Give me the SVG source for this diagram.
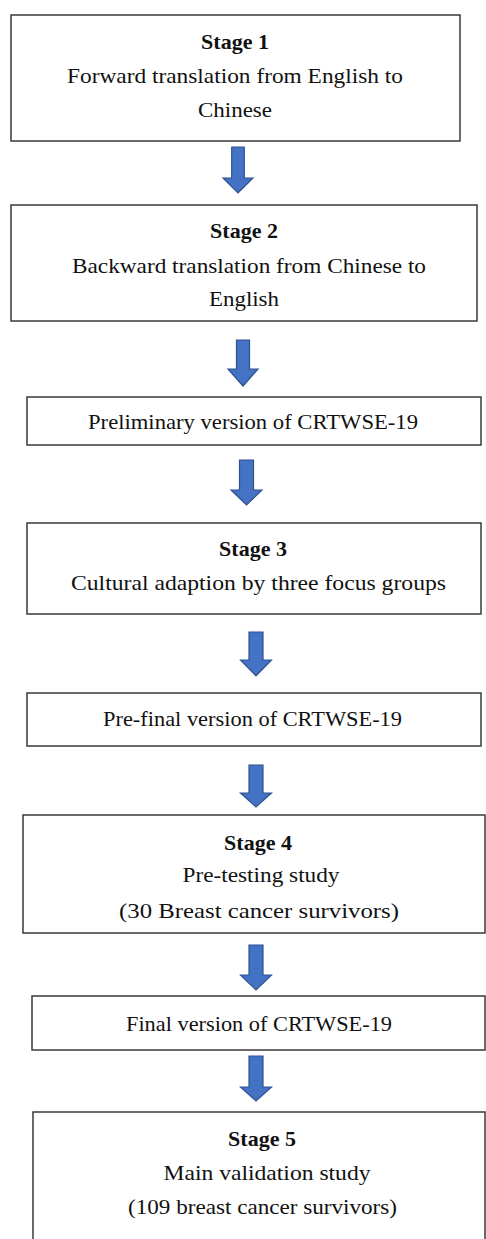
<svg xmlns="http://www.w3.org/2000/svg" width="486" height="1239" viewBox="0 0 486 1239">
<style>
.box{fill:#fff;stroke:#3a3a3a;stroke-width:1.5}
.t{font-family:"Liberation Serif","DejaVu Serif",serif;font-size:22px;fill:#111;text-anchor:middle}
.b{font-weight:bold}
.arr{fill:#4472C4;stroke:#2F528F;stroke-width:1.2;stroke-linejoin:miter}
</style>
<rect width="486" height="1239" fill="#fff"/>
<g id="connectors">
<path class="arr" d="M231.7,147 H244.3 V178 H253 L238,193 L223,178 H231.7 Z"/>
<path class="arr" d="M236.5,340 H249.5 V369 H258 L243,386 L228,369 H236.5 Z"/>
<path class="arr" d="M239.5,460 H253.5 V490 H262 L246.5,505 L231,490 H239.5 Z"/>
<path class="arr" d="M249,632 H263 V660 H271.5 L256,676 L240.5,660 H249 Z"/>
<path class="arr" d="M249,765 H263 V793 H271.5 L256,807 L240.5,793 H249 Z"/>
<path class="arr" d="M249,945 H263 V975 H271.5 L256,990 L240.5,975 H249 Z"/>
<path class="arr" d="M249,1056 H263 V1087 H271.5 L256,1101 L240.5,1087 H249 Z"/>
</g>
<g id="stage1">
<rect class="box" x="11" y="15" width="449" height="126"/>
<text class="t b" x="235" y="49">Stage 1</text>
<text class="t" x="235" y="83" textLength="336" lengthAdjust="spacingAndGlyphs">Forward translation from English to</text>
<text class="t" x="235" y="117" textLength="74" lengthAdjust="spacingAndGlyphs">Chinese</text>
</g>
<g id="stage2">
<rect class="box" x="11" y="205" width="466" height="116"/>
<text class="t b" x="244" y="238">Stage 2</text>
<text class="t" x="249" y="273" textLength="354" lengthAdjust="spacingAndGlyphs">Backward translation from Chinese to</text>
<text class="t" x="244" y="306" textLength="70" lengthAdjust="spacingAndGlyphs">English</text>
</g>
<g id="preliminary">
<rect class="box" x="27" y="397" width="454" height="48"/>
<text class="t" x="253" y="429" textLength="330" lengthAdjust="spacingAndGlyphs">Preliminary version of CRTWSE-19</text>
</g>
<g id="stage3">
<rect class="box" x="27" y="523" width="454" height="91"/>
<text class="t b" x="253" y="556">Stage 3</text>
<text class="t" x="258.5" y="590" textLength="375" lengthAdjust="spacingAndGlyphs">Cultural adaption by three focus groups</text>
</g>
<g id="prefinal">
<rect class="box" x="27" y="693" width="454" height="53"/>
<text class="t" x="252.5" y="726" textLength="299" lengthAdjust="spacingAndGlyphs">Pre-final version of CRTWSE-19</text>
</g>
<g id="stage4">
<rect class="box" x="23" y="815" width="462" height="118"/>
<text class="t b" x="258" y="850">Stage 4</text>
<text class="t" x="261" y="882" textLength="157" lengthAdjust="spacingAndGlyphs">Pre-testing study</text>
<text class="t" x="259" y="918" textLength="280" lengthAdjust="spacingAndGlyphs">(30 Breast cancer survivors)</text>
</g>
<g id="final">
<rect class="box" x="32" y="996" width="453" height="54"/>
<text class="t" x="259" y="1031" textLength="266" lengthAdjust="spacingAndGlyphs">Final version of CRTWSE-19</text>
</g>
<g id="stage5">
<rect class="box" x="33" y="1112" width="452" height="135"/>
<text class="t b" x="262" y="1146">Stage 5</text>
<text class="t" x="267" y="1180" textLength="207" lengthAdjust="spacingAndGlyphs">Main validation study</text>
<text class="t" x="262.5" y="1214" textLength="269" lengthAdjust="spacingAndGlyphs">(109 breast cancer survivors)</text>
</g>
</svg>
